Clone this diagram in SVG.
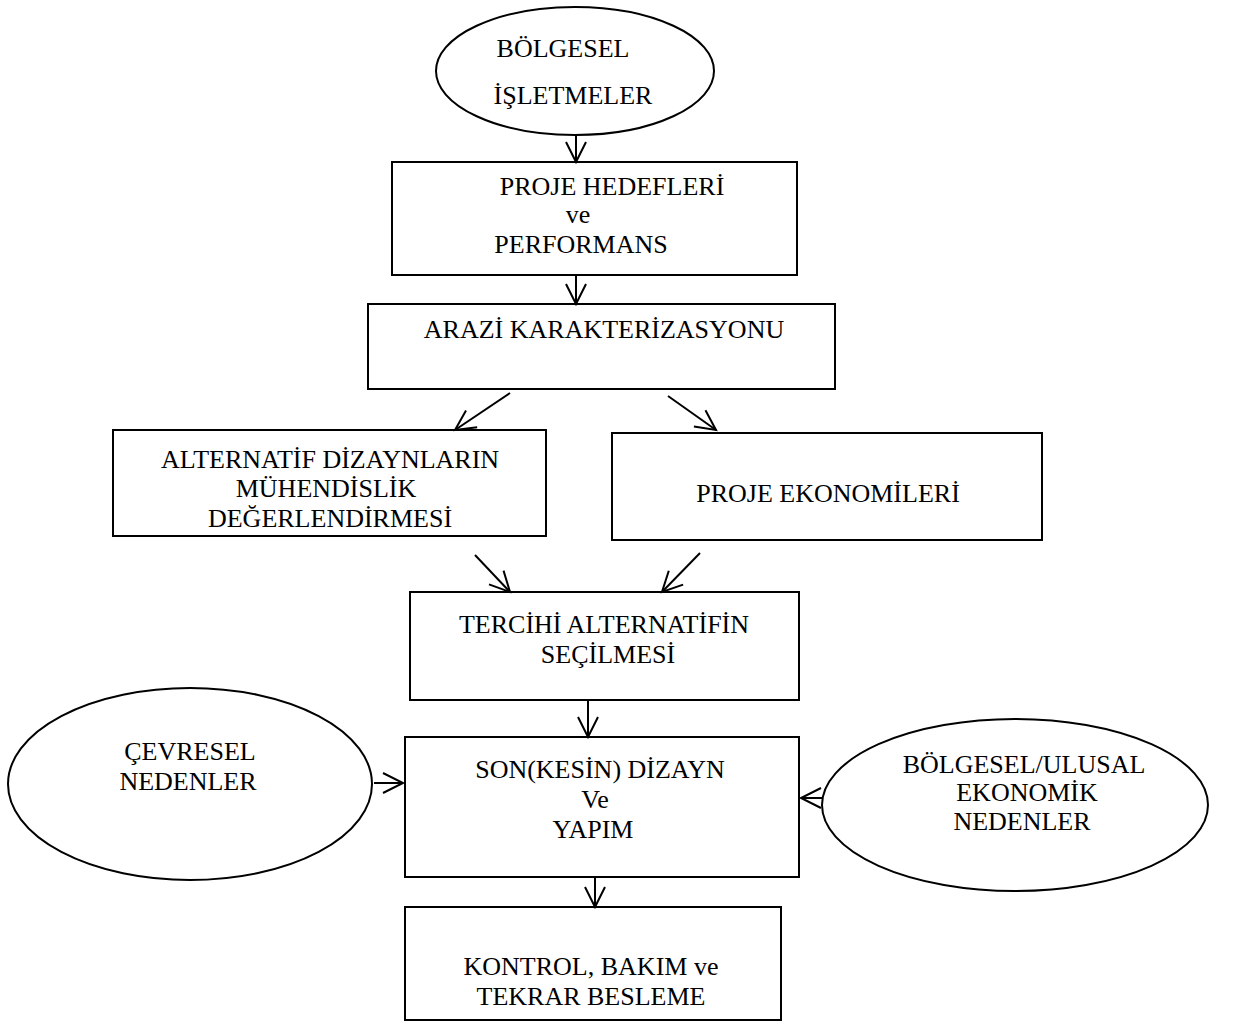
<svg xmlns="http://www.w3.org/2000/svg" width="1236" height="1027" viewBox="0 0 1236 1027">
<style>
.n{fill:none;stroke:#000;stroke-width:2}
.t{font-family:"Liberation Serif","Times New Roman",serif;font-size:26px;fill:#000;text-anchor:middle}
.c{fill:none;stroke:#000;stroke-width:2}
</style>
<defs>
<marker id="a" markerUnits="userSpaceOnUse" markerWidth="26" markerHeight="26" refX="21" refY="12" orient="auto">
<path d="M1,2 L21,12 L1,22" fill="none" stroke="#000" stroke-width="2"/>
</marker>
</defs>
<rect width="1236" height="1027" fill="#fff"/>
<g id="n1"><ellipse class="n" cx="575" cy="71" rx="139" ry="64"/>
<text class="t" x="563" y="57">BÖLGESEL</text><text class="t" x="573" y="104">İŞLETMELER</text></g>
<g id="n2"><rect class="n" x="392" y="162" width="405" height="113"/>
<text class="t" x="612" y="195">PROJE HEDEFLERİ</text><text class="t" x="578" y="223">ve</text><text class="t" x="581" y="253">PERFORMANS</text></g>
<g id="n3"><rect class="n" x="368" y="304" width="467" height="85"/>
<text class="t" x="604" y="338">ARAZİ KARAKTERİZASYONU</text></g>
<g id="n4"><rect class="n" x="113" y="430" width="433" height="106"/>
<text class="t" x="330" y="468">ALTERNATİF DİZAYNLARIN</text><text class="t" x="326" y="497">MÜHENDİSLİK</text><text class="t" x="330" y="527">DEĞERLENDİRMESİ</text></g>
<g id="n5"><rect class="n" x="612" y="433" width="430" height="107"/>
<text class="t" x="828" y="502">PROJE EKONOMİLERİ</text></g>
<g id="n6"><rect class="n" x="410" y="592" width="389" height="108"/>
<text class="t" x="604" y="633">TERCİHİ ALTERNATİFİN</text><text class="t" x="608" y="663">SEÇİLMESİ</text></g>
<g id="n7"><rect class="n" x="405" y="737" width="394" height="140"/>
<text class="t" x="600" y="778">SON(KESİN) DİZAYN</text><text class="t" x="595" y="808">Ve</text><text class="t" x="593" y="838">YAPIM</text></g>
<g id="n8"><ellipse class="n" cx="190" cy="784" rx="182" ry="96"/>
<text class="t" x="190" y="760">ÇEVRESEL</text><text class="t" x="188" y="790">NEDENLER</text></g>
<g id="n9"><ellipse class="n" cx="1015" cy="805" rx="193" ry="86"/>
<text class="t" x="1024" y="773">BÖLGESEL/ULUSAL</text><text class="t" x="1027" y="801">EKONOMİK</text><text class="t" x="1022" y="830">NEDENLER</text></g>
<g id="n10"><rect class="n" x="405" y="907" width="376" height="113"/>
<text class="t" x="591" y="975">KONTROL, BAKIM ve</text><text class="t" x="591" y="1005">TEKRAR BESLEME</text></g>
<g id="connectors">
<line class="c" x1="576" y1="135" x2="576" y2="162" marker-end="url(#a)"/>
<line class="c" x1="576" y1="275" x2="576" y2="304" marker-end="url(#a)"/>
<line class="c" x1="510" y1="393" x2="455" y2="430" marker-end="url(#a)"/>
<line class="c" x1="668" y1="396" x2="716" y2="430" marker-end="url(#a)"/>
<line class="c" x1="475" y1="555" x2="510" y2="592" marker-end="url(#a)"/>
<line class="c" x1="700" y1="553" x2="662" y2="592" marker-end="url(#a)"/>
<line class="c" x1="588" y1="700" x2="588" y2="737" marker-end="url(#a)"/>
<line class="c" x1="374" y1="783" x2="403" y2="783" marker-end="url(#a)"/>
<line class="c" x1="823" y1="798" x2="801" y2="798" marker-end="url(#a)"/>
<line class="c" x1="595" y1="877" x2="595" y2="907" marker-end="url(#a)"/>
</g>
</svg>
